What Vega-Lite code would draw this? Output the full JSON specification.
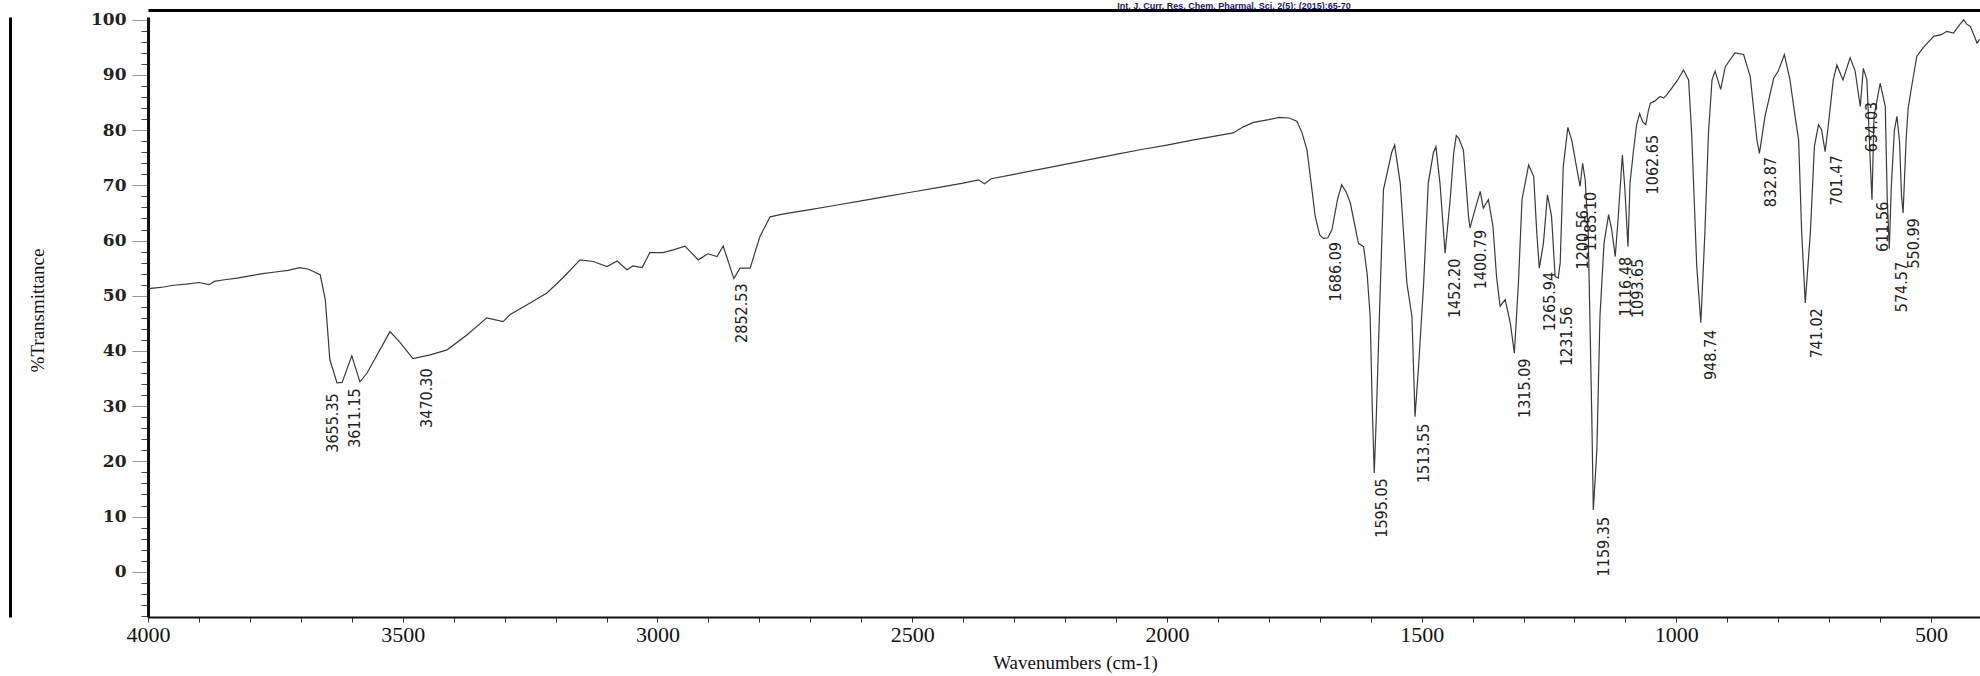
{
  "$schema": "https://vega.github.io/schema/vega-lite/v6.json",
  "width": 1832,
  "height": 600,
  "autosize": {"type": "none"},
  "padding": {"left": 148, "top": 17, "right": 0, "bottom": 59},
  "background": "white",
  "config": {"view": {"stroke": null}},
  "title": {"text": "Int. J. Curr. Res. Chem. Pharmal. Sci. 2(5): (2015):65-70", "font": "Liberation Sans", "fontSize": 9, "fontWeight": "bold", "color": "#17176b", "anchor": "middle", "baseline": "bottom", "offset": -1, "dy": 9, "dx": 170},
  "datasets": {
    "spectrum": [
      {"wn":4000,"t":51.3},{"wn":3975,"t":51.5},{"wn":3950,"t":51.9},{"wn":3925,"t":52.1},{"wn":3900,"t":52.4},{"wn":3880,"t":52.0},{"wn":3870,"t":52.6},{"wn":3850,"t":52.9},{"wn":3825,"t":53.2},{"wn":3800,"t":53.6},{"wn":3775,"t":54.0},{"wn":3750,"t":54.3},{"wn":3725,"t":54.6},{"wn":3702,"t":55.1},{"wn":3685,"t":54.8},{"wn":3662,"t":53.8},{"wn":3652,"t":49.3},{"wn":3643,"t":38.4},{"wn":3629,"t":34.2},{"wn":3619,"t":34.3},{"wn":3600,"t":39.1},{"wn":3584,"t":34.4},{"wn":3570,"t":36.0},{"wn":3525,"t":43.5},{"wn":3505,"t":41.5},{"wn":3480,"t":38.6},{"wn":3446,"t":39.3},{"wn":3413,"t":40.2},{"wn":3374,"t":42.9},{"wn":3335,"t":46.0},{"wn":3303,"t":45.3},{"wn":3289,"t":46.6},{"wn":3250,"t":48.7},{"wn":3217,"t":50.5},{"wn":3185,"t":53.3},{"wn":3152,"t":56.5},{"wn":3126,"t":56.2},{"wn":3099,"t":55.3},{"wn":3079,"t":56.3},{"wn":3060,"t":54.7},{"wn":3048,"t":55.4},{"wn":3030,"t":55.1},{"wn":3015,"t":57.8},{"wn":2989,"t":57.8},{"wn":2969,"t":58.3},{"wn":2946,"t":59.0},{"wn":2920,"t":56.5},{"wn":2901,"t":57.6},{"wn":2883,"t":57.1},{"wn":2871,"t":59.0},{"wn":2850,"t":53.1},{"wn":2838,"t":55.0},{"wn":2818,"t":55.0},{"wn":2799,"t":60.7},{"wn":2779,"t":64.3},{"wn":2759,"t":64.7},
      {"wn":2740,"t":65.0},{"wn":2700,"t":65.6},{"wn":2650,"t":66.4},{"wn":2600,"t":67.2},{"wn":2550,"t":68.0},{"wn":2500,"t":68.8},{"wn":2450,"t":69.6},{"wn":2400,"t":70.4},{"wn":2370,"t":71.0},{"wn":2358,"t":70.3},{"wn":2345,"t":71.2},{"wn":2300,"t":72.0},{"wn":2250,"t":72.9},{"wn":2200,"t":73.8},{"wn":2150,"t":74.7},{"wn":2100,"t":75.6},{"wn":2050,"t":76.5},{"wn":2000,"t":77.3},{"wn":1950,"t":78.2},{"wn":1900,"t":79.0},{"wn":1870,"t":79.5},{"wn":1850,"t":80.6},{"wn":1830,"t":81.4},{"wn":1800,"t":81.9},{"wn":1780,"t":82.3},{"wn":1760,"t":82.2},{"wn":1745,"t":81.6},{"wn":1735,"t":79.6},{"wn":1725,"t":76.4},{"wn":1715,"t":69.0},{"wn":1709,"t":64.4},{"wn":1700,"t":61.0},{"wn":1693,"t":60.4},{"wn":1684,"t":60.5},{"wn":1676,"t":62.0},{"wn":1665,"t":67.5},{"wn":1657,"t":70.1},{"wn":1648,"t":68.8},{"wn":1640,"t":66.8},{"wn":1624,"t":59.5},{"wn":1614,"t":58.9},{"wn":1607,"t":54.0},{"wn":1601,"t":46.2},{"wn":1597,"t":30.0},{"wn":1593,"t":17.9},{"wn":1589,"t":28.0},{"wn":1585,"t":40.2},{"wn":1575,"t":69.2},{"wn":1559,"t":75.9},{"wn":1553,"t":77.3},{"wn":1542,"t":70.4},{"wn":1529,"t":52.3},{"wn":1519,"t":46.2},{"wn":1513,"t":28.1},{"wn":1506,"t":37.2},{"wn":1496,"t":52.3},{"wn":1487,"t":70.4},{"wn":1477,"t":75.9},{"wn":1472,"t":77.0},{"wn":1464,"t":70.4},{"wn":1454,"t":57.7},{"wn":1444,"t":67.4},{"wn":1437,"t":75.9},{"wn":1432,"t":79.0},{"wn":1427,"t":78.5},{"wn":1418,"t":76.4},{"wn":1408,"t":64.4},{"wn":1405,"t":62.3},{"wn":1398,"t":64.7},{"wn":1385,"t":68.9},{"wn":1379,"t":65.9},{"wn":1369,"t":67.4},{"wn":1360,"t":62.6},{"wn":1353,"t":53.5},{"wn":1346,"t":48.1},{"wn":1336,"t":49.3},{"wn":1326,"t":45.1},{"wn":1318,"t":39.6},{"wn":1310,"t":52.3},{"wn":1303,"t":67.4},{"wn":1290,"t":73.7},{"wn":1280,"t":71.6},{"wn":1274,"t":61.4},{"wn":1269,"t":55.0},{"wn":1261,"t":59.5},{"wn":1253,"t":68.3},{"wn":1245,"t":64.4},{"wn":1238,"t":53.5},{"wn":1232,"t":53.2},{"wn":1228,"t":56.0},{"wn":1222,"t":73.4},{"wn":1213,"t":80.5},{"wn":1205,"t":78.0},{"wn":1195,"t":72.8},{"wn":1189,"t":69.8},{"wn":1184,"t":74.0},{"wn":1179,"t":71.0},{"wn":1173,"t":61.4},{"wn":1166,"t":28.1},{"wn":1163,"t":11.2},{"wn":1156,"t":22.1},{"wn":1150,"t":46.2},{"wn":1142,"t":59.5},{"wn":1133,"t":64.7},{"wn":1127,"t":62.0},{"wn":1120,"t":57.1},{"wn":1114,"t":64.4},{"wn":1106,"t":75.5},{"wn":1101,"t":69.2},{"wn":1095,"t":58.9},{"wn":1091,"t":70.4},{"wn":1084,"t":76.4},{"wn":1078,"t":81.0},{"wn":1072,"t":83.0},{"wn":1066,"t":81.5},{"wn":1060,"t":81.0},{"wn":1055,"t":83.5},{"wn":1051,"t":84.9},{"wn":1042,"t":85.3},{"wn":1032,"t":86.1},{"wn":1025,"t":85.8},{"wn":1019,"t":86.4},{"wn":1009,"t":87.6},{"wn":998,"t":89.0},{"wn":986,"t":90.9},{"wn":976,"t":89.1},{"wn":970,"t":79.5},{"wn":960,"t":55.3},{"wn":952,"t":45.1},{"wn":944,"t":61.4},{"wn":937,"t":79.5},{"wn":930,"t":89.1},{"wn":924,"t":90.7},{"wn":913,"t":87.4},{"wn":904,"t":91.5},{"wn":885,"t":94.0},{"wn":868,"t":93.7},{"wn":855,"t":89.7},{"wn":842,"t":78.3},{"wn":837,"t":75.8},{"wn":826,"t":82.5},{"wn":809,"t":89.4},{"wn":800,"t":90.7},{"wn":788,"t":93.7},{"wn":777,"t":89.1},{"wn":767,"t":82.5},{"wn":760,"t":78.3},{"wn":754,"t":61.4},{"wn":747,"t":48.7},{"wn":737,"t":61.4},{"wn":729,"t":77.1},{"wn":721,"t":81.0},{"wn":715,"t":80.1},{"wn":708,"t":76.1},{"wn":702,"t":80.7},{"wn":692,"t":89.1},{"wn":685,"t":91.8},{"wn":673,"t":89.1},{"wn":659,"t":93.1},{"wn":649,"t":90.7},{"wn":642,"t":86.1},{"wn":639,"t":84.3},{"wn":633,"t":91.2},{"wn":626,"t":89.1},{"wn":619,"t":73.4},{"wn":616,"t":67.4},{"wn":612,"t":82.5},{"wn":600,"t":88.5},{"wn":590,"t":84.3},{"wn":586,"t":67.4},{"wn":582,"t":58.5},{"wn":578,"t":70.0},{"wn":572,"t":80.0},{"wn":567,"t":82.5},{"wn":562,"t":78.0},{"wn":558,"t":68.0},{"wn":555,"t":65.0},{"wn":549,"t":78.3},{"wn":545,"t":84.0},{"wn":538,"t":88.0},{"wn":528,"t":93.4},{"wn":515,"t":95.0},{"wn":495,"t":97.0},{"wn":480,"t":97.3},{"wn":469,"t":97.9},{"wn":456,"t":97.6},{"wn":445,"t":99.0},{"wn":436,"t":100.0},{"wn":430,"t":99.2},{"wn":423,"t":98.8},{"wn":415,"t":97.0},{"wn":410,"t":95.8},{"wn":404,"t":96.5}
    ],
    "peaks": [
      {"wn":3655.35,"t":32.7,"label":"3655.35"},{"wn":3611.15,"t":33.6,"label":"3611.15"},{"wn":3470.30,"t":37.2,"label":"3470.30"},{"wn":2852.53,"t":52.6,"label":"2852.53"},{"wn":1686.09,"t":60.1,"label":"1686.09"},{"wn":1595.05,"t":17.3,"label":"1595.05"},{"wn":1513.55,"t":27.2,"label":"1513.55"},{"wn":1452.20,"t":57.1,"label":"1452.20"},{"wn":1400.79,"t":62.3,"label":"1400.79"},{"wn":1315.09,"t":39.0,"label":"1315.09"},{"wn":1265.94,"t":54.7,"label":"1265.94"},{"wn":1231.56,"t":48.4,"label":"1231.56"},{"wn":1200.56,"t":65.9,"label":"1200.56"},{"wn":1185.10,"t":69.2,"label":"1185.10"},{"wn":1159.35,"t":10.3,"label":"1159.35"},{"wn":1116.48,"t":57.4,"label":"1116.48"},{"wn":1093.65,"t":57.1,"label":"1093.65"},{"wn":1062.65,"t":79.5,"label":"1062.65"},{"wn":948.74,"t":44.2,"label":"948.74"},{"wn":832.87,"t":75.5,"label":"832.87"},{"wn":741.02,"t":48.1,"label":"741.02"},{"wn":701.47,"t":75.8,"label":"701.47"},{"wn":634.03,"t":85.5,"label":"634.03"},{"wn":611.56,"t":67.4,"label":"611.56"},{"wn":574.57,"t":56.5,"label":"574.57"},{"wn":550.99,"t":64.4,"label":"550.99"}
    ]
  },
  "resolve": {"axis": {"x": "independent", "y": "independent"}},
  "layer": [
    {
      "data": {"name": "spectrum"},
      "mark": {"type": "line", "color": "#3a3a3a", "strokeWidth": 1.2},
      "encoding": {
        "x": {"field": "wn", "type": "quantitative",
          "scale": {"domain": [404, 4000], "reverse": true, "nice": false, "zero": false},
          "axis": {"values": [500,600,700,800,900,1000,1100,1200,1300,1400,1500,1600,1700,1800,1900,2000,2100,2200,2300,2400,2500,2600,2700,2800,2900,3000,3100,3200,3300,3400,3500,3600,3700,3800,3900,4000],
            "labelExpr": "datum.value % 500 === 0 ? datum.value : ''",
            "labelOverlap": false, "labelFlush": false, "grid": false,
            "tickSize": 5, "tickColor": "#333", "tickWidth": 1,
            "domainColor": "#111", "domainWidth": 2,
            "labelFont": "Liberation Serif", "labelFontSize": 22, "labelColor": "#111", "labelPadding": 2,
            "title": "Wavenumbers (cm-1)", "titleFont": "Liberation Serif", "titleFontSize": 19, "titleFontWeight": "normal", "titleColor": "#111",
            "titleX": 927, "titleY": 45, "titleBaseline": "middle", "titleAlign": "center"}},
        "y": {"field": "t", "type": "quantitative",
          "scale": {"domain": [-8.2, 100.5], "nice": false, "zero": false},
          "axis": {"values": [-8,-6,-4,-2,0,2,4,6,8,10,12,14,16,18,20,22,24,26,28,30,32,34,36,38,40,42,44,46,48,50,52,54,56,58,60,62,64,66,68,70,72,74,76,78,80,82,84,86,88,90,92,94,96,98,100],
            "labelExpr": "datum.value % 10 === 0 ? datum.value : ''",
            "labelOverlap": false, "labelFlush": false, "grid": false,
            "tickSize": {"condition": {"test": "datum.value % 10 === 0", "value": 16}, "value": 7},
            "tickColor": {"condition": {"test": "datum.value % 10 === 0", "value": "#999"}, "value": "#444"},
            "tickWidth": 1,
            "domainColor": "#111", "domainWidth": 3,
            "labelFont": "DejaVu Serif", "labelFontSize": 17, "labelFontWeight": "bold", "labelColor": "#222", "labelPadding": 6,
            "title": "%Transmittance", "titleFont": "Liberation Serif", "titleFontSize": 19, "titleFontWeight": "normal", "titleColor": "#111",
            "titleX": -111, "titleY": 293, "titleAngle": 270, "titleBaseline": "middle", "titleAlign": "center"}}
      }
    },
    {
      "data": {"name": "peaks"},
      "mark": {"type": "text", "angle": 270, "align": "right", "baseline": "middle", "dx": -2, "dy": 9, "font": "Liberation Sans Narrow, DejaVu Sans Condensed, Liberation Sans", "fontSize": 16, "color": "#222"},
      "encoding": {
        "x": {"field": "wn", "type": "quantitative",
          "axis": {"orient": "top", "offset": 7, "labels": false, "ticks": false, "title": null, "grid": false, "domainColor": "#000", "domainWidth": 3}},
        "y": {"field": "t", "type": "quantitative",
          "axis": {"orient": "left", "offset": 138, "labels": false, "ticks": false, "title": null, "grid": false, "domainColor": "#000", "domainWidth": 3}},
        "text": {"field": "label"}
      }
    }
  ]
}
